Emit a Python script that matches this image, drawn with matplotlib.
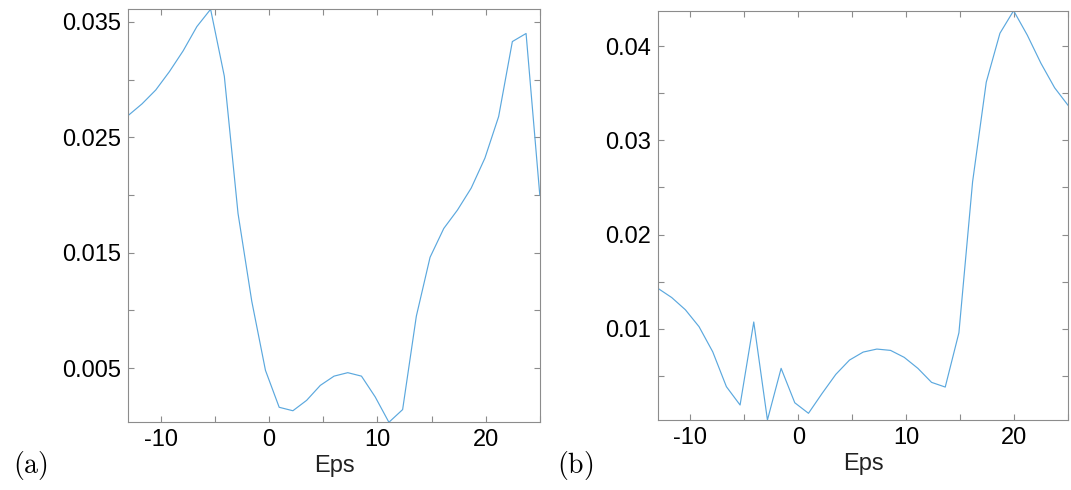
import numpy as np
import matplotlib
matplotlib.use('Agg')
import matplotlib.pyplot as plt

plt.rcParams['font.family'] = ['Liberation Sans', 'DejaVu Sans']
plt.rcParams['mathtext.fontset'] = 'cm'

# Eps grid (31 samples from -13 to 25)
eps = np.linspace(-13, 25, 31)

# Panel (a) values
err_a = [0.0269, 0.0279, 0.0291, 0.0307, 0.0325, 0.0346, 0.0361, 0.0303,
         0.0184, 0.0108, 0.0048, 0.0016, 0.0013, 0.0022, 0.0035, 0.0043,
         0.0046, 0.0043, 0.0025, 0.0003, 0.0014, 0.0095, 0.0146, 0.0171,
         0.0187, 0.0206, 0.0232, 0.0268, 0.0333, 0.0340, 0.0200]

# Panel (b) values
err_b = [0.01427, 0.0133, 0.0120, 0.0102, 0.00753, 0.00382, 0.00187, 0.0107,
         0.00028, 0.00577, 0.00211, 0.00099, 0.00311, 0.00513, 0.00665, 0.0075,
         0.00782, 0.00768, 0.00694, 0.00577, 0.00428, 0.00378, 0.00955, 0.0256,
         0.0362, 0.0414, 0.0438, 0.0412, 0.0382, 0.0356, 0.0337]

xticks = [-10, -5, 0, 5, 10, 15, 20, 25]
xticklabels = ['-10', '', '0', '', '10', '', '20', '']
yticks_a = [0.005, 0.01, 0.015, 0.02, 0.025, 0.03, 0.035]
yticklabels_a = ['0.005', '', '0.015', '', '0.025', '', '0.035']
yticks_b = [0.005, 0.01, 0.015, 0.02, 0.025, 0.03, 0.035, 0.04]
yticklabels_b = ['', '0.01', '', '0.02', '', '0.03', '', '0.04']

line_color = '#5BA8DE'
axis_color = '#8c8c8c'

fig = plt.figure(figsize=(10.71, 4.9), dpi=100)
ax1 = fig.add_axes([0.1198, 0.1382, 0.3842, 0.8429])
ax2 = fig.add_axes([0.6144, 0.1429, 0.3831, 0.8353])

panels = [(ax1, err_a, yticks_a, yticklabels_a),
          (ax2, err_b, yticks_b, yticklabels_b)]

for ax, y, yt, ytl in panels:
    ax.plot(eps, y, color=line_color, linewidth=0.85)
    ax.set_xlim(-13, 25)
    ax.set_ylim(min(y), max(y))
    ax.set_xticks(xticks)
    ax.set_xticklabels(xticklabels)
    ax.set_yticks(yt)
    ax.set_yticklabels(ytl)
    ax.tick_params(direction='in', top=True, right=True, length=4, width=0.8,
                   color=axis_color, labelsize=17, labelcolor='black', pad=5)
    for s in ax.spines.values():
        s.set_color(axis_color)
        s.set_linewidth(0.8)
    ax.set_xlabel('Eps', fontsize=17, color='#222222', labelpad=3)

fig.text(0.028, 0.05, r'$\mathrm{(a)}$', fontsize=20, ha='center', va='center')
fig.text(0.537, 0.05, r'$\mathrm{(b)}$', fontsize=20, ha='center', va='center')

fig.savefig('out.png', dpi=100)
